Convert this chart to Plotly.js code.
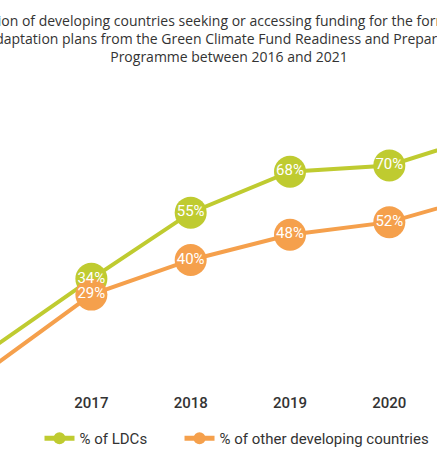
<!DOCTYPE html>
<html>
<head>
<meta charset="utf-8">
<script src="https://cdn.plot.ly/plotly-3.0.1.min.js"></script>
<style>
html,body{margin:0;padding:0;background:#fff;}
#chart{width:437px;height:461px;}
</style>
</head>
<body>
<div id="chart"></div>
<script>
const years = [2016, 2017, 2018, 2019, 2020, 2021];
const ldcValues = [12, 34, 55, 68, 70, 80];
const otherValues = [6, 29, 40, 48, 52, 61];
const ldcName = '% of LDCs';
const otherName = '% of other developing countries';
const titleText = 'Proportion of developing countries seeking or accessing funding for the formulation of<br>national adaptation plans from the Green Climate Fund Readiness and Preparatory Support<br>Programme between 2016 and 2021';

const green = '#BFCB30';
const orange = '#F5A04C';
const fontFam = 'Roboto, "Open Sans", sans-serif';
// the first-year labels fall outside the visible frame
const pct = (v, i) => (i === 0 ? '' : v + '%');

const traces = [
  {x: years, y: ldcValues, name: ldcName, mode: 'lines+markers', cliponaxis: false, legend: 'legend',
   line: {color: green, width: 4}, marker: {color: green, size: 32}},
  {x: years, y: otherValues, name: otherName, mode: 'lines+markers', cliponaxis: false, legend: 'legend2',
   line: {color: orange, width: 4}, marker: {color: orange, size: 32}},
  {x: years, y: ldcValues, mode: 'text', text: ldcValues.map(pct), showlegend: false, cliponaxis: false,
   textposition: 'middle center', textfont: {color: '#fff', size: 15, family: fontFam}, hoverinfo: 'skip'},
  {x: years, y: otherValues, mode: 'text', text: otherValues.map(pct), showlegend: false, cliponaxis: false,
   textposition: 'middle center', textfont: {color: '#fff', size: 15, family: fontFam}, hoverinfo: 'skip'}
];

const legendBase = {orientation: 'h', xanchor: 'left', y: -0.0964, yanchor: 'top', itemsizing: 'constant',
                    bgcolor: 'rgba(0,0,0,0)', font: {size: 15, color: '#333', family: fontFam}};

const layout = {
  width: 437, height: 461,
  margin: {l: 0, r: 0, t: 80, b: 69},
  paper_bgcolor: '#fff', plot_bgcolor: '#fff',
  font: {family: fontFam, color: '#333'},
  title: {text: titleText, x: 229/437, xanchor: 'center', xref: 'paper', yref: 'container', y: 0.944, yanchor: 'top',
          font: {size: 14, color: '#333', family: '"Open Sans", sans-serif'}},
  xaxis: {range: [2016.08, 2020.48], tickvals: years, ticktext: years.map(String),
          showgrid: false, zeroline: false, showline: false, ticks: '',
          tickfont: {size: 15, color: '#333', family: fontFam, weight: 500}},
  yaxis: {range: [-1.9, 97.1], showgrid: false, zeroline: false, showline: false,
          showticklabels: false, ticks: ''},
  showlegend: true,
  legend: Object.assign({}, legendBase, {x: 0.0904}),
  legend2: Object.assign({}, legendBase, {x: 0.4108})
};

Plotly.newPlot('chart', traces, layout, {displayModeBar: false, staticPlot: true});
</script>
</body>
</html>
